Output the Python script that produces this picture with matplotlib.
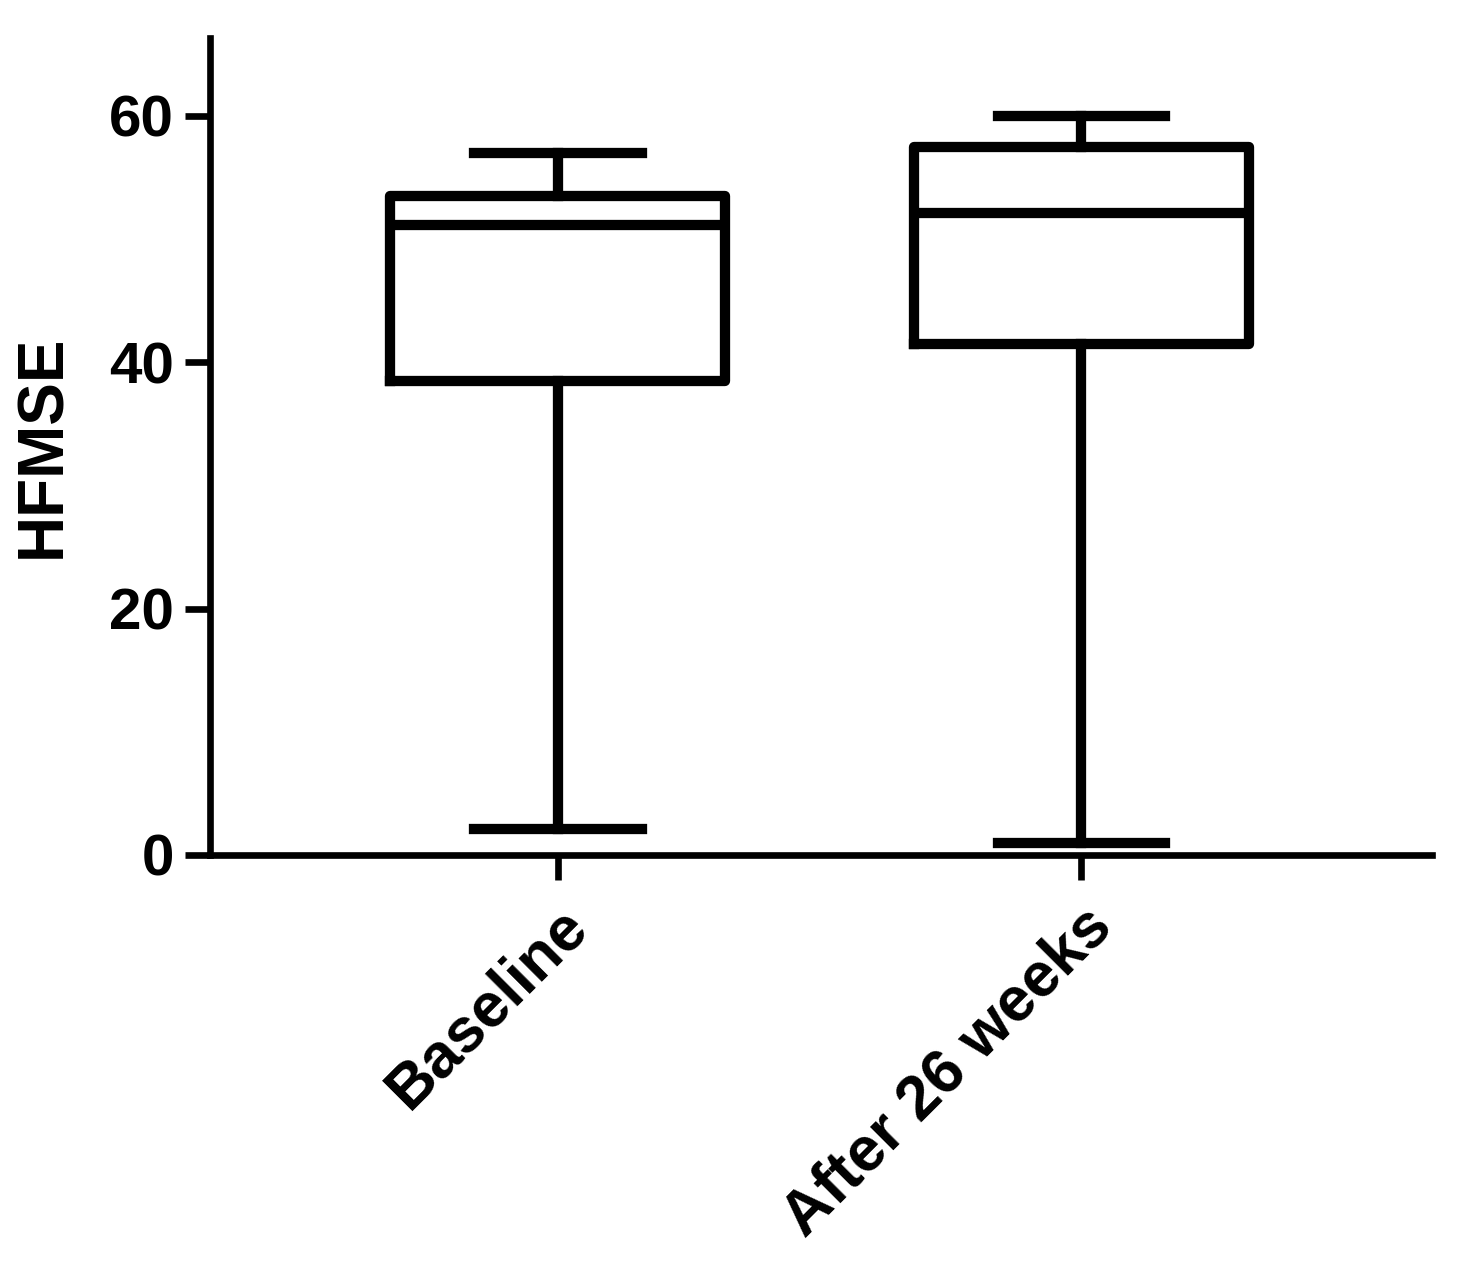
import matplotlib
matplotlib.use("Agg")
import matplotlib.pyplot as plt

plt.rcParams['font.family'] = ['Liberation Sans', 'DejaVu Sans']
plt.rcParams['font.weight'] = 'bold'

groups = ["Baseline", "After 26 weeks"]
whisker_low = [2.1, 1.0]
q1 = [38.5, 41.5]
median = [51.1, 52.1]
q3 = [53.5, 57.5]
whisker_high = [57.0, 60.0]

stats = []
for i in range(len(groups)):
    stats.append(dict(label=groups[i], whislo=whisker_low[i], q1=q1[i], med=median[i],
                      q3=q3[i], whishi=whisker_high[i], fliers=[]))

fig = plt.figure(figsize=(14.66, 12.7), dpi=100)
ax = fig.add_axes([0.1432, 0.3268, 0.8336, 0.6432])

lw = 7.4
ax.bxp(stats, positions=[1, 2], widths=0.64, showfliers=False,
       boxprops=dict(color="black", linewidth=lw),
       medianprops=dict(color="black", linewidth=lw),
       whiskerprops=dict(color="black", linewidth=lw),
       capprops=dict(color="black", linewidth=lw),
       capwidths=0.32)

ax.set_xlim(0.335, 2.67)
ax.set_ylim(0, 66.3)
ax.spines['top'].set_visible(False)
ax.spines['right'].set_visible(False)
ax.spines['left'].set_linewidth(4.8)
ax.spines['bottom'].set_linewidth(4.8)

ax.set_yticks([0, 20, 40, 60])
ax.tick_params(axis='y', length=18, width=4.8, labelsize=42, pad=8)
ax.tick_params(axis='x', length=18, width=4.8, labelsize=45, pad=12)
ax.set_xticks([1, 2])
ax.set_xticklabels(groups, rotation=45, ha='right', va='top', rotation_mode='anchor')
for t in ax.get_xticklabels() + ax.get_yticklabels():
    t.set_fontweight('bold')

ax.set_ylabel("HFMSE", fontsize=46, fontweight='bold', labelpad=26)

fig.savefig("out.png", dpi=100)
